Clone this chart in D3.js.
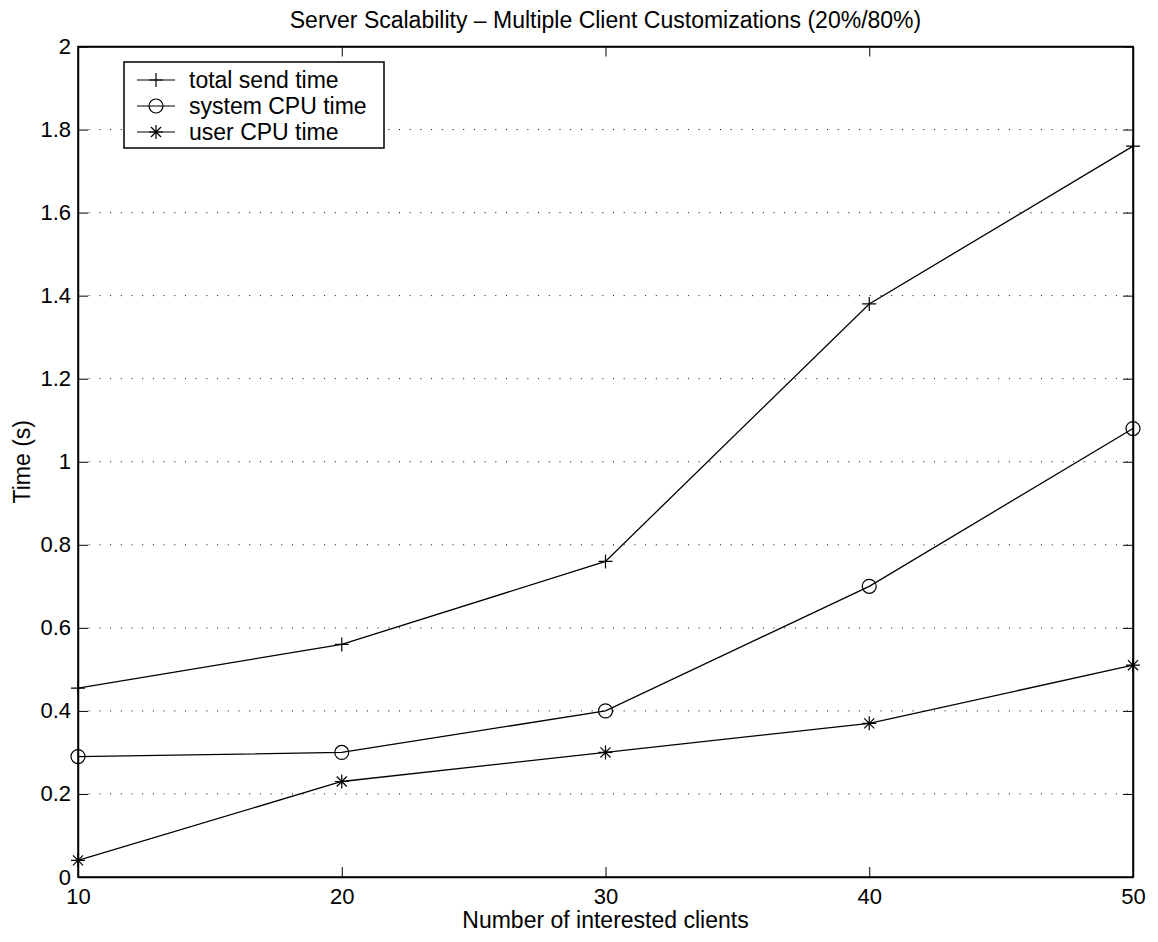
<!DOCTYPE html>
<html>
<head>
<meta charset="utf-8">
<script src="https://cdn.jsdelivr.net/npm/d3@7"></script>
<style>
  body { margin: 0; background: #fff; }
  text { font-family: "Liberation Sans", Arial, Helvetica, sans-serif; fill: #000; }
</style>
</head>
<body>
<div id="chart"></div>
<script>
const clients = [10, 20, 30, 40, 50];
const totalSend = [0.455, 0.56, 0.76, 1.38, 1.76];
const systemCpu = [0.29, 0.30, 0.40, 0.70, 1.08];
const userCpu = [0.04, 0.23, 0.30, 0.37, 0.51];
const xTicks = [10, 20, 30, 40, 50];
const yTicks = [0, 0.2, 0.4, 0.6, 0.8, 1, 1.2, 1.4, 1.6, 1.8, 2];
const seriesNames = ["total send time", "system CPU time", "user CPU time"];
const markers = ["plus", "circle", "star"];

const width = 1158, height = 942;
const margin = { top: 46.5, right: 25, bottom: 65, left: 78 };
const innerW = width - margin.left - margin.right;
const innerH = height - margin.top - margin.bottom;
const fontSize = 23;

const svg = d3.select("#chart").append("svg")
    .attr("width", width)
    .attr("height", height);

const g = svg.append("g")
    .attr("transform", `translate(${margin.left},${margin.top})`);

const x = d3.scaleLinear().domain([10, 50]).range([0, innerW]);
const y = d3.scaleLinear().domain([0, 2]).range([innerH, 0]);

// dotted horizontal grid
g.selectAll(".grid")
    .data(yTicks.slice(1, -1))
    .enter().append("line")
    .attr("x1", 0).attr("x2", innerW)
    .attr("y1", d => y(d)).attr("y2", d => y(d))
    .attr("stroke", "#000")
    .attr("stroke-width", 1)
    .attr("stroke-dasharray", "1,9.7");

// axes (ticks inward, mirrored)
const tickLen = 10;
const fmt = d3.format("~g");
g.append("g")
    .attr("transform", `translate(0,${innerH})`)
    .call(d3.axisBottom(x).tickValues(xTicks).tickSizeInner(-tickLen).tickSizeOuter(0).tickPadding(11).tickFormat(fmt))
    .call(a => a.selectAll("text").attr("font-size", fontSize - 1).attr("dy", "0.71em"));
g.append("g")
    .call(d3.axisTop(x).tickValues(xTicks).tickSizeInner(-tickLen).tickSizeOuter(0).tickFormat(""));
g.append("g")
    .call(d3.axisLeft(y).tickValues(yTicks).tickSizeInner(-tickLen).tickSizeOuter(0).tickPadding(7).tickFormat(fmt))
    .call(a => a.selectAll("text").attr("font-size", fontSize - 1));
g.append("g")
    .attr("transform", `translate(${innerW},0)`)
    .call(d3.axisRight(y).tickValues(yTicks).tickSizeInner(-tickLen).tickSizeOuter(0).tickFormat(""));

g.selectAll(".domain").attr("stroke", "#000").attr("stroke-width", 1.5);
g.selectAll(".tick line").attr("stroke", "#000");

// box
g.append("rect")
    .attr("width", innerW).attr("height", innerH)
    .attr("fill", "none").attr("stroke", "#000").attr("stroke-width", 1.5);

function drawMarker(sel, type, cx, cy) {
  if (type === "plus") {
    sel.append("path").attr("d", `M${cx - 7},${cy}H${cx + 7}M${cx},${cy - 7}V${cy + 7}`)
      .attr("stroke", "#000").attr("stroke-width", 1.2).attr("fill", "none");
  } else if (type === "circle") {
    sel.append("circle").attr("cx", cx).attr("cy", cy).attr("r", 7)
      .attr("stroke", "#000").attr("stroke-width", 1.2).attr("fill", "none");
  } else {
    const r = 7, d = r * 0.72;
    sel.append("path")
      .attr("d", `M${cx - r},${cy}H${cx + r}M${cx},${cy - r}V${cy + r}M${cx - d},${cy - d}L${cx + d},${cy + d}M${cx - d},${cy + d}L${cx + d},${cy - d}`)
      .attr("stroke", "#000").attr("stroke-width", 1.2).attr("fill", "none");
  }
}

const series = [totalSend, systemCpu, userCpu];
const line = d3.line().x((d, i) => x(clients[i])).y(d => y(d));

series.forEach((vals, si) => {
  g.append("path")
      .datum(vals)
      .attr("d", line)
      .attr("fill", "none")
      .attr("stroke", "#000")
      .attr("stroke-width", 1.3);
  const mg = g.append("g");
  vals.forEach((v, i) => drawMarker(mg, markers[si], x(clients[i]), y(v)));
});

// legend
const lg = svg.append("g").attr("transform", "translate(124,62)");
lg.append("rect").attr("width", 260).attr("height", 86)
    .attr("fill", "#fff").attr("stroke", "#000").attr("stroke-width", 1.5);
seriesNames.forEach((name, i) => {
  const ly = 18 + i * 26;
  lg.append("line").attr("x1", 13).attr("x2", 51).attr("y1", ly).attr("y2", ly)
      .attr("stroke", "#000").attr("stroke-width", 1.2);
  drawMarker(lg, markers[i], 32, ly);
  lg.append("text").attr("x", 65).attr("y", ly).attr("dy", "0.36em")
      .attr("font-size", fontSize).text(name);
});

// titles
svg.append("text")
    .attr("x", margin.left + innerW / 2).attr("y", 28)
    .attr("text-anchor", "middle").attr("font-size", fontSize)
    .text("Server Scalability \u2013 Multiple Client Customizations (20%/80%)");
svg.append("text")
    .attr("x", margin.left + innerW / 2).attr("y", 928)
    .attr("text-anchor", "middle").attr("font-size", fontSize)
    .text("Number of interested clients");
svg.append("text")
    .attr("transform", `translate(30,${margin.top + innerH / 2}) rotate(-90)`)
    .attr("text-anchor", "middle").attr("font-size", fontSize)
    .text("Time (s)");
</script>
</body>
</html>
